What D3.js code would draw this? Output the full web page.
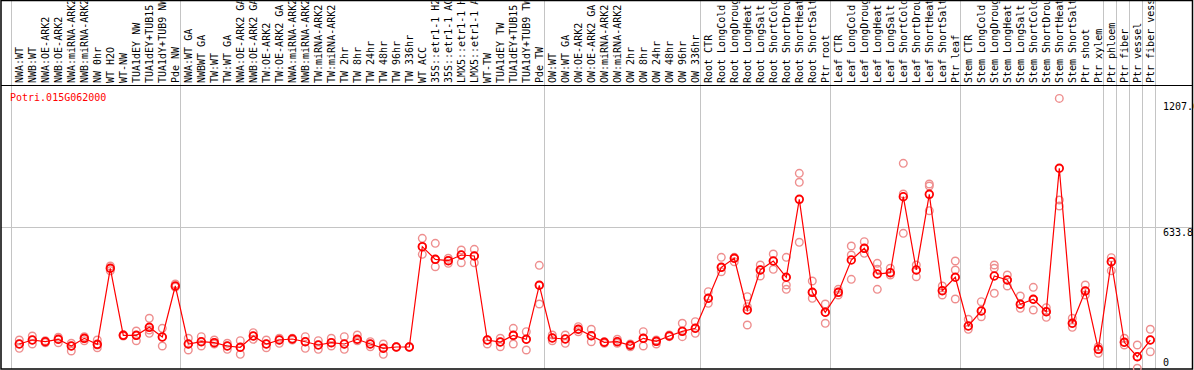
<!DOCTYPE html>
<html>
<head>
<meta charset="utf-8">
<script src="https://cdn.jsdelivr.net/npm/d3@7"></script>
<style>
  html, body { margin: 0; padding: 0; background: #fff; }
  svg { display: block; }
  .lbl { font-family: "DejaVu Sans Mono", monospace; font-size: 10px; }
</style>
</head>
<body>
<svg id="chart"></svg>
<script>
// ---------------------------
// expression profile - one gene over all samples
// ---------------------------

const geneId = "Potri.015G062000";

// sample names, left to right
const categories = [
  "NWA:WT", "NWB:WT", "NWA:OE-ARK2", "NWB:OE-ARK2", "NWA:miRNA-ARK2", "NWB:miRNA-ARK2",
  "NW 0hr", "WT H2O", "WT-NW", "TUA1dEY NW", "TUA1dEY+TUB15 NW", "TUA1dY+TUB9 NW", "Pde NW",
  "NWA:WT GA", "NWBWT GA", "TW:WT", "TW:WT GA", "NWA:OE-ARK2 GA", "NWB:OE-ARK2 GA",
  "TW:OE-ARK2", "TW:OE-ARK2 GA", "NWA:miRNA-ARK2 GA", "NWB:miRNA-ARK2 GA", "TW:miRNA-ARK2",
  "TW:miRNA-ARK2 GA", "TW 2hr", "TW 8hr", "TW 24hr", "TW 48hr", "TW 96hr", "TW 336hr",
  "WT ACC", "35S::etr1-1 H2O", "35S::etr1-1 ACC", "LMX5::etr1-1 H2O", "LMX5::etr1-1 ACC",
  "WT-TW", "TUA1dEY TW", "TUA1dEY+TUB15 TW", "TUA1dY+TUB9 TW", "Pde TW",
  "OW:WT", "OW:WT GA", "OW:OE-ARK2", "OW:OE-ARK2 GA", "OW:miRNA-ARK2", "OW:miRNA-ARK2 GA",
  "OW 2hr", "OW 8hr", "OW 24hr", "OW 48hr", "OW 96hr", "OW 336hr",
  "Root CTR", "Root LongCold", "Root LongDrought", "Root LongHeat", "Root LongSalt",
  "Root ShortCold", "Root ShortDrought", "Root ShortHeat", "Root ShortSalt", "Ptr root",
  "Leaf CTR", "Leaf LongCold", "Leaf LongDrought", "Leaf LongHeat", "Leaf LongSalt",
  "Leaf ShortCold", "Leaf ShortDrought", "Leaf ShortHeat", "Leaf ShortSalt", "Ptr leaf",
  "Stem CTR", "Stem LongCold", "Stem LongDrought", "Stem LongHeat", "Stem LongSalt",
  "Stem ShortCold", "Stem ShortDrought", "Stem ShortHeat", "Stem ShortSalt", "Ptr shoot", "Ptr xylem",
  "Ptr phloem", "Ptr fiber", "Ptr vessel", "Ptr fiber vessel"
];

// how many samples sit in each experiment block
const groupSizes = [13, 28, 12, 10, 10, 11, 1, 1, 1, 1];

// mean expression per sample
const meanExpr = [
  111.6, 129.4, 121.8, 132.6, 102.7, 137.0, 110.2, 449.5, 150.4, 150.4, 186.1, 142.8, 370.5,
  111.6, 121.8, 117.4, 102.7, 96.9, 147.3, 111.6, 129.4, 133.9, 121.8, 107.1, 117.4, 111.6,
  132.6, 111.6, 92.4, 98.2, 98.2, 545.9, 489.6, 483.4, 508.8, 504.4, 129.4, 120.5, 150.4, 132.6, 373.6,
  138.4, 133.9, 177.2, 148.6, 119.2, 121.8, 105.8, 137.0, 123.6, 147.3, 168.0, 181.7,
  315.6, 453.9, 494.1, 263.3, 441.9, 482.0, 409.3, 757.4, 342.3, 253.1,
  342.3, 486.5, 538.7, 424.0, 429.8, 769.0, 441.9, 779.7, 349.5, 409.3,
  191.9, 258.9, 415.1, 397.2, 288.8, 311.1, 255.7, 895.8, 204.0, 348.1, 87.9,
  478.9, 119.2, 54.9, 129.4
];

// biological replicates per sample
const repExpr = [
  [129.4, 92.4, 111.6], [147.3, 111.6, 129.4], [126.3, 117.4, 121.8], [141.5, 117.4, 132.6],
  [114.7, 80.3, 102.7], [144.2, 126.3, 137.0], [129.4, 95.1, 107.1], [459.7, 438.7, 449.5],
  [147.3, 151.7, 152.5], [169.6, 126.3, 150.4], [226.3, 159.3, 174.1], [181.6, 102.6, 142.8],
  [379.4, 367.3, 366.0],
  [137.0, 84.8, 111.6], [144.2, 102.6, 121.8], [129.4, 111.6, 117.4], [114.7, 87.9, 102.7],
  [126.3, 65.6, 96.9], [162.0, 132.6, 147.3], [129.4, 95.1, 111.6], [137.0, 114.7, 129.4],
  [137.0, 129.4, 133.9], [144.2, 92.4, 121.8], [126.3, 87.9, 107.1], [137.0, 102.6, 117.4],
  [144.2, 87.9, 111.6], [151.7, 126.3, 132.6], [121.8, 99.5, 111.6], [111.6, 65.6, 92.4],
  [99.5, 96.9, 98.2], [99.5, 98.2, 96.9], [583.3, 511.9, 545.9], [561.0, 456.6, 489.6],
  [494.1, 471.7, 483.4], [531.1, 474.4, 508.8], [534.2, 474.4, 504.4], [129.4, 111.6, 129.4],
  [137.0, 99.5, 120.5], [181.6, 111.6, 150.4], [166.5, 84.8, 132.6], [462.8, 290.1, 373.6],
  [151.7, 126.3, 138.4], [151.7, 114.7, 133.9], [188.8, 166.5, 177.2], [177.2, 121.8, 148.6],
  [121.8, 114.7, 119.2], [132.6, 114.7, 121.8], [111.6, 99.5, 105.8], [166.5, 102.6, 137.0],
  [129.4, 111.6, 123.6], [151.7, 144.2, 147.3], [204.0, 144.2, 169.6], [211.1, 159.3, 181.7],
  [345.0, 293.2, 315.6], [498.5, 434.3, 453.9], [498.5, 478.9, 494.1], [322.7, 196.4, 278.0],
  [464.2, 415.1, 441.9], [513.2, 445.0, 482.0], [498.5, 374.9, 355.7], [873.4, 833.3, 565.5],
  [392.7, 315.6, 342.3], [290.1, 204.0, 253.1],
  [355.7, 330.3, 342.3], [549.0, 508.8, 400.3], [568.2, 516.4, 538.7], [471.7, 445.0, 355.7],
  [449.5, 419.5, 429.8], [918.0, 781.0, 605.6], [464.2, 412.0, 441.9], [825.7, 816.7, 706.5],
  [370.4, 330.3, 349.5], [482.0, 441.9, 312.4],
  [221.8, 177.2, 191.9], [300.4, 233.4, 258.9], [464.2, 449.5, 337.9], [419.5, 370.4, 397.2],
  [325.8, 270.9, 288.8], [364.6, 263.3, 311.1], [273.6, 230.7, 255.7], [1207.6, 754.3, 727.5],
  [226.3, 186.1, 204.0], [374.9, 330.3, 348.1], [99.5, 70.1, 87.9],
  [496.7, 438.7, 478.9], [137.0, 107.1, 119.2], [107.1, 3.1, 54.9], [177.2, 77.2, 129.4]
];

// right hand value labels
const yTicks = [0, 633.8, 1207.6];
const yTickLabels = ["0", "633.8", "1207.6"];

(function(){

const width = 1194, height = 370;
const headerBottom = 85, plotBottom = 369;

const svg = d3.select("#chart")
  .attr("width", width)
  .attr("height", height);

const x = d3.scaleLinear()
  .domain([0, categories.length - 1])
  .range([19.3, 1150.3]);

const y = d3.scaleLinear()
  .domain([0, 1267.6])
  .range([plotBottom, headerBottom]);

// group dividers sit a little right of the last sample in each block
let bounds = [-1];
groupSizes.reduce((acc, n) => { bounds.push(acc + n - 1); return acc + n; }, 0);

svg.append("g")
  .selectAll("line")
  .data(bounds)
  .join("line")
  .attr("x1", d => Math.round(x(d) + 5) + 0.5)
  .attr("x2", d => Math.round(x(d) + 5) + 0.5)
  .attr("y1", 0)
  .attr("y2", plotBottom)
  .attr("stroke", "#c4c4c4")
  .attr("stroke-width", 1);

// horizontal mid line
svg.append("line")
  .attr("x1", 1).attr("x2", width - 1)
  .attr("y1", Math.round(y(yTicks[1])) + 0.5)
  .attr("y2", Math.round(y(yTicks[1])) + 0.5)
  .attr("stroke", "#c4c4c4");

// frame: outer box and header separator
svg.append("rect")
  .attr("x", 1).attr("y", 0.5)
  .attr("width", width - 2.5).attr("height", plotBottom - 0.5)
  .attr("fill", "none")
  .attr("stroke", "#000")
  .attr("stroke-width", 1.5);

svg.append("line")
  .attr("x1", 1).attr("x2", width - 1)
  .attr("y1", headerBottom + 0.5).attr("y2", headerBottom + 0.5)
  .attr("stroke", "#000");

// header labels, rotated, clipped to the header box
svg.append("clipPath").attr("id", "hdr-clip")
  .append("rect")
  .attr("x", 0).attr("y", 1.5)
  .attr("width", width).attr("height", headerBottom - 1.5);

svg.append("g")
  .attr("clip-path", "url(#hdr-clip)")
  .selectAll("text")
  .data(categories)
  .join("text")
  .attr("class", "lbl")
  .attr("transform", (d, i) => `translate(${x(i) + 3.5},${headerBottom - 2}) rotate(-90)`)
  .attr("fill", "#000")
  .text(d => d);

// gene id
svg.append("text")
  .attr("class", "lbl")
  .attr("x", 10)
  .attr("y", 101)
  .attr("fill", "#ff0000")
  .text(geneId);

// value labels on the right (top one hangs a bit lower, like the original)
svg.append("g")
  .selectAll("text")
  .data(yTicks)
  .join("text")
  .attr("class", "lbl")
  .attr("x", 1163)
  .attr("y", (d, i) => i === 0 ? y(d) - 3 : y(d) + (i === 2 ? 12 : 9))
  .attr("fill", "#000")
  .text((d, i) => yTickLabels[i]);

// replicate circles
const reps = [];
repExpr.forEach((vals, i) => vals.forEach(v => reps.push({ i, v })));

svg.append("g")
  .selectAll("circle")
  .data(reps)
  .join("circle")
  .attr("cx", d => x(d.i))
  .attr("cy", d => y(d.v))
  .attr("r", 3.8)
  .attr("fill", "none")
  .attr("stroke", "#ee8e8e")
  .attr("stroke-width", 1.4);

// mean line
const line = d3.line()
  .x((d, i) => x(i))
  .y(d => y(d));

svg.append("path")
  .datum(meanExpr)
  .attr("d", line)
  .attr("fill", "none")
  .attr("stroke", "#ff0000")
  .attr("stroke-width", 1.2);

svg.append("g")
  .selectAll("circle")
  .data(meanExpr)
  .join("circle")
  .attr("cx", (d, i) => x(i))
  .attr("cy", d => y(d))
  .attr("r", 3.8)
  .attr("fill", "none")
  .attr("stroke", "#ff0000")
  .attr("stroke-width", 1.8);

})();
</script>
</body>
</html>
